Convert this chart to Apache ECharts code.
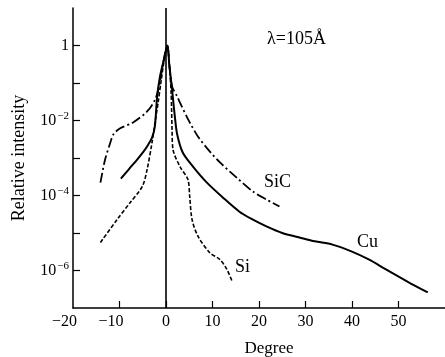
<!DOCTYPE html>
<html><head><meta charset="utf-8">
<script src="https://cdn.jsdelivr.net/npm/echarts@6/dist/echarts.min.js"></script>
<style>html,body{margin:0;padding:0;background:#fff}#c{width:445px;height:357px}</style>
</head><body><div id="c"></div>
<script>
// Degree values and relative intensities
const cuX = [-9.7, -8, -6.2, -4.8, -3.8, -3, -2.4, -1.9, -1.3, -0.6, 0.3, 0.7, 1.3, 1.9, 2.4, 3.6, 5.8, 8.8, 12.2, 15.8, 18.6, 21.6, 25, 28.7, 32, 35.8, 40, 43.7, 47.3, 52, 56.3];
const cuY = [2.8e-4, 5.0e-4, 9.1e-4, 1.5e-3, 2.3e-3, 3.5e-3, 6.9e-3, 4.4e-2, 0.148, 0.355, 1, 0.316, 0.068, 0.0129, 4.3e-3, 1.4e-3, 5.9e-4, 2.2e-4, 8.9e-5, 3.7e-5, 2.3e-5, 1.5e-5, 1.0e-5, 7.6e-6, 6.0e-6, 4.9e-6, 3.2e-6, 1.95e-6, 1.07e-6, 5.0e-7, 2.6e-7];

const sicX = [-14.1, -13.1, -12, -11.3, -9.85, -7.07, -4.07, -2.4, -1.5, -0.8, 0.3, 0.7, 1.3, 2.4, 3.0, 5.1, 6.9, 9.4, 11.6, 15.2, 18.6, 21.6, 24.4];
const sicY = [2.2e-4, 9.1e-4, 2.5e-3, 4.3e-3, 6.2e-3, 8.9e-3, 0.0174, 0.035, 0.079, 0.25, 1, 0.32, 0.081, 0.044, 0.030, 8.9e-3, 3.7e-3, 1.5e-3, 7.6e-4, 3.0e-4, 1.3e-4, 7.8e-5, 5.1e-5];

const siX = [-14.1, -10.5, -7.7, -5.1, -4.07, -3.0, -2.36, -1.7, -1.0, -0.4, 0.3, 0.7, 1.1, 1.3, 1.5, 3.0, 4.7, 5.1, 5.6, 6.9, 9.4, 11.6, 13.1, 14.3];
const siY = [5.6e-6, 2.3e-5, 6.5e-5, 1.74e-4, 4.9e-4, 2.6e-3, 8.9e-3, 0.030, 0.126, 0.40, 1, 0.32, 0.056, 5.8e-3, 1.7e-3, 5.9e-4, 2.7e-4, 9.3e-5, 2.3e-5, 8.1e-6, 3.0e-6, 1.95e-6, 1.07e-6, 4.8e-7];

const xLabelValues = [-20, -10, 0, 10, 20, 30, 40, 50];
const xTickValues = [-10, 0, 10, 20, 30, 40, 50];
const yLabelValues = [1e-6, 1e-4, 1e-2, 1];
const yTickValues = [1e-6, 1e-5, 1e-4, 1e-3, 1e-2, 1e-1, 1];

const FONT = 'Liberation Serif';
const pairs = (xs, ys) => xs.map((x, i) => [x, ys[i]]);

const chart = echarts.init(document.getElementById('c'), null, {renderer: 'canvas'});
chart.setOption({
  animation: false,
  backgroundColor: '#fff',
  grid: {left: 73, right: 0, top: 8, bottom: 49, containLabel: false, outerBoundsMode: 'none'},
  xAxis: {
    type: 'value', min: -20, max: 60, interval: 10,
    name: 'Degree', nameLocation: 'middle', nameGap: 32,
    nameTextStyle: {fontFamily: FONT, fontSize: 17, color: '#000', padding: [0, 0, 0, 20]},
    axisLine: {show: true, onZero: false, lineStyle: {color: '#000', width: 1.5}},
    axisTick: {show: true, inside: true, length: 7, customValues: xTickValues, lineStyle: {color: '#000', width: 1.2}},
    axisLabel: {
      customValues: xLabelValues, margin: 6, color: '#000', fontFamily: FONT, fontSize: 16,
      formatter: v => v < 0 ? '{n|−' + (-v) + '}' : String(v),
      rich: {n: {fontFamily: FONT, fontSize: 16, color: '#000', padding: [0, 17, 0, 0]}}
    },
    splitLine: {show: false}
  },
  yAxis: {
    type: 'log', logBase: 10, min: 1e-7, max: 10,
    name: 'Relative intensity', nameLocation: 'middle', nameGap: 45, nameRotate: 90,
    nameTextStyle: {fontFamily: FONT, fontSize: 18, color: '#000'},
    axisLine: {show: true, onZero: false, lineStyle: {color: '#000', width: 1.5}},
    axisTick: {show: true, inside: true, length: 7, customValues: yTickValues, lineStyle: {color: '#000', width: 1.2}},
    axisLabel: {
      customValues: yLabelValues, margin: 4, color: '#000', fontFamily: FONT, fontSize: 16,
      formatter: v => {
        const e = Math.round(Math.log10(v));
        return e === 0 ? '1' : '10{s|−' + (-e) + '}';
      },
      rich: {s: {fontFamily: FONT, fontSize: 11, color: '#000', verticalAlign: 'top', padding: [0, 0, 8, 1]}}
    },
    splitLine: {show: false}
  },
  series: [
    {
      name: 'Cu', type: 'line', data: pairs(cuX, cuY), smooth: 0.3, showSymbol: false,
      lineStyle: {color: '#000', width: 2, type: 'solid'},
      markLine: {
        silent: true, symbol: 'none', label: {show: false},
        lineStyle: {color: '#000', width: 1.6, type: 'solid'},
        data: [{xAxis: 0}]
      }
    },
    {
      name: 'SiC', type: 'line', data: pairs(sicX, sicY), smooth: 0.3, showSymbol: false,
      lineStyle: {color: '#000', width: 1.8, type: [10, 3, 2, 3]}
    },
    {
      name: 'Si', type: 'line', data: pairs(siX, siY), smooth: 0.3, showSymbol: false,
      lineStyle: {color: '#000', width: 1.6, type: [4, 2]}
    }
  ],
  graphic: [
    {type: 'text', left: 267, top: 30, style: {text: 'λ=105Å', font: '18px "Liberation Serif"', fill: '#000'}},
    {type: 'text', left: 264, top: 173, style: {text: 'SiC', font: '18px "Liberation Serif"', fill: '#000'}},
    {type: 'text', left: 357, top: 233, style: {text: 'Cu', font: '18px "Liberation Serif"', fill: '#000'}},
    {type: 'text', left: 235, top: 258, style: {text: 'Si', font: '18px "Liberation Serif"', fill: '#000'}}
  ]
});
</script>
</body></html>
